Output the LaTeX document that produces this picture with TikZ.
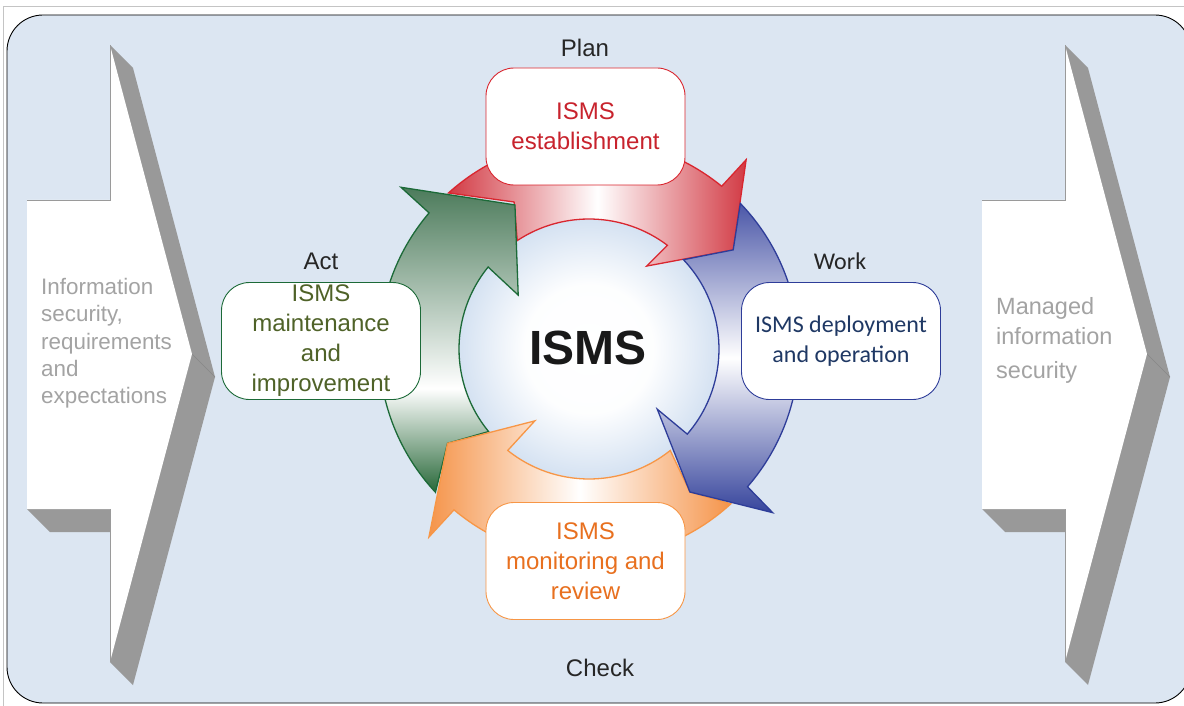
\documentclass[tikz,border=0pt]{standalone}
\usepackage{fontspec}
\setmainfont{Liberation Sans}
\newfontfamily\calibrilike{Carlito}
\usetikzlibrary{calc}

\definecolor{pagebg}{HTML}{DCE6F2}
\definecolor{framegrey}{HTML}{C4C4C4}
\definecolor{shadowgrey}{HTML}{999999}
\definecolor{edgegrey}{HTML}{9A9A9A}
\definecolor{sidetext}{HTML}{A3A3A3}
\definecolor{hubedge}{HTML}{D2E0F1}
\definecolor{redline}{HTML}{D9262F}
\definecolor{redfill}{HTML}{D23A44}
\definecolor{redtext}{HTML}{C8232D}
\definecolor{blueline}{HTML}{2E3D99}
\definecolor{bluetop}{HTML}{4B57A8}
\definecolor{bluebottom}{HTML}{36449C}
\definecolor{bluetext}{HTML}{1F3864}
\definecolor{orangeline}{HTML}{F79646}
\definecolor{orangefill}{HTML}{F5944A}
\definecolor{orangetext}{HTML}{E8701F}
\definecolor{greenline}{HTML}{1C6A38}
\definecolor{greentop}{HTML}{4C7B5B}
\definecolor{greenbottom}{HTML}{286839}
\definecolor{greentext}{HTML}{4F6228}

\pgfdeclareradialshading{hubshade}{\pgfpoint{0bp}{0bp}}{%
  color(0bp)=(white); color(12bp)=(white!96!hubedge); color(25bp)=(hubedge); color(50bp)=(hubedge)}
\pgfdeclareverticalshading{actshade}{100bp}{%
  color(0bp)=(greenbottom); color(25bp)=(greenbottom); color(42bp)=(white);
  color(75bp)=(greentop); color(100bp)=(greentop)}

\tikzset{
  ringarrow/.style={line width=1.3pt, line join=miter, miter limit=20},
  stepbox/.style={draw, fill=white, rounded corners=28pt, minimum width=199pt,
    minimum height=117pt, inner sep=0pt, align=center, line width=0.9pt,
    font=\fontsize{24}{30}\selectfont},
  phase/.style={anchor=base, inner sep=0pt, text=black!85, font=\fontsize{24}{28}\selectfont},
  sidelabel/.style={anchor=north west, inner sep=0pt, align=left, text=sidetext},
  sidearrow/.pic={
    \fill[shadowgrey] (110,45) -- (133,68) -- (215,377) -- (133,685) -- (110,662) -- cycle;
    \fill[shadowgrey] (27,509) -- (50,532) -- (133,532) -- (110,509) -- cycle;
    \draw[shadowgrey!88!black, line width=0.4pt] (192,354) -- (215,377);
    \fill[white] (27,200) -- (110,200) -- (110,45) -- (192,354) -- (110,662)
      -- (110,509) -- (27,509) -- cycle;
    \draw[edgegrey, line width=0.8pt] (27,200) -- (110,200) -- (110,45);
    \draw[edgegrey, line width=0.8pt] (110,509) -- (110,662);
  }
}

\begin{document}
\begin{tikzpicture}[x=1pt, y=-1pt]
\path[use as bounding box] (0,0) rectangle (1184,706);

% page, outer frame and rounded panel
\begin{scope}
  \clip (0,0) rectangle (1184,706);
  \fill[white] (0,0) rectangle (1184,706);
  \draw[framegrey, line width=1.5pt] (3.5,720) -- (3.5,6.5) -- (1200,6.5);
  \draw[line width=0.9pt, fill=pagebg, rounded corners=36pt] (7,15) rectangle (1191,703);
\end{scope}

% input and output block arrows
\pic at (0,0) {sidearrow};
\pic at (955,0) {sidearrow};

\node[sidelabel, font=\fontsize{22.4}{27.3}\selectfont] (inputs) at (41,278)
  {Information\\security,\\requirements\\and\\expectations};
\node[sidelabel, font=\fontsize{23.5}{30}\selectfont] (outputs) at (996,297)
  {Managed\\information\\[4pt]security};

% PDCA ring around the hub
\begin{scope}[shift={(589,349)}, yscale=-1]
  \shade[shading=hubshade] (0,0) circle (134);

  % Plan arrow
  \draw[ringarrow, draw=redline, left color=redfill, right color=redfill, middle color=white]
    (132:210) arc[start angle=132, end angle=50.8, radius=210]
    -- (50.3:246) -- (34.5:175) -- (55.2:101) -- (52.9:130)
    arc[start angle=52.9, end angle=123.5, radius=130] -- (117:165) -- cycle;

  % Act arrow
  \draw[ringarrow, draw=greenline, shading=actshade]
    (223:210) arc[start angle=223, end angle=139.6, radius=210]
    -- (139.3:248) -- (117.2:162) -- (142.7:89) -- (140.9:130)
    arc[start angle=140.9, end angle=219.4, radius=130] -- (213.7:170) -- cycle;

  % Check arrow
  \draw[ringarrow, draw=orangeline, left color=orangefill, right color=orangefill, middle color=white]
    (-47.5:210) arc[start angle=-47.5, end angle=-130, radius=210]
    -- (-130.4:247) -- (-146.3:170) -- (-127:90) -- (-128.7:130)
    arc[start angle=-128.7, end angle=-51.3, radius=130] -- (-54.8:175) -- cycle;

  % Work arrow
  \draw[ringarrow, draw=blueline, top color=bluetop, bottom color=bluebottom, middle color=white]
    (43.9:210) arc[start angle=43.9, end angle=-41, radius=210]
    -- (-41.7:246) -- (-54.8:175) -- (-41.4:91) -- (-40.9:130)
    arc[start angle=-40.9, end angle=43.4, radius=130] -- (34.5:175) -- cycle;
\end{scope}

\node[font=\bfseries\fontsize{48}{50}\selectfont, text=black!90, inner sep=0pt] (hub) at (588,348) {ISMS};

% phase boxes
\node[stepbox, draw=redline, text=redtext] (plan) at (585.5,126.5) {ISMS\\establishment};
\node[stepbox, draw=blueline, text=bluetext, font=\calibrilike\fontsize{24}{30}\selectfont]
  (work) at (841,341) {ISMS deployment\\and operation};
\node[stepbox, draw=orangeline, text=orangetext] (check) at (585.5,561) {ISMS\\monitoring and\\review};
\node[stepbox, draw=greenline, text=greentext] (act) at (321,341) {ISMS\\maintenance\\and\\improvement};

% phase names
\node[phase] (planlabel) at (585,57) {Plan};
\node[phase, font=\calibrilike\fontsize{24}{28}\selectfont] (worklabel) at (840,269) {Work};
\node[phase] (checklabel) at (600,676) {Check};
\node[phase] (actlabel) at (321,269) {Act};
\end{tikzpicture}
\end{document}
